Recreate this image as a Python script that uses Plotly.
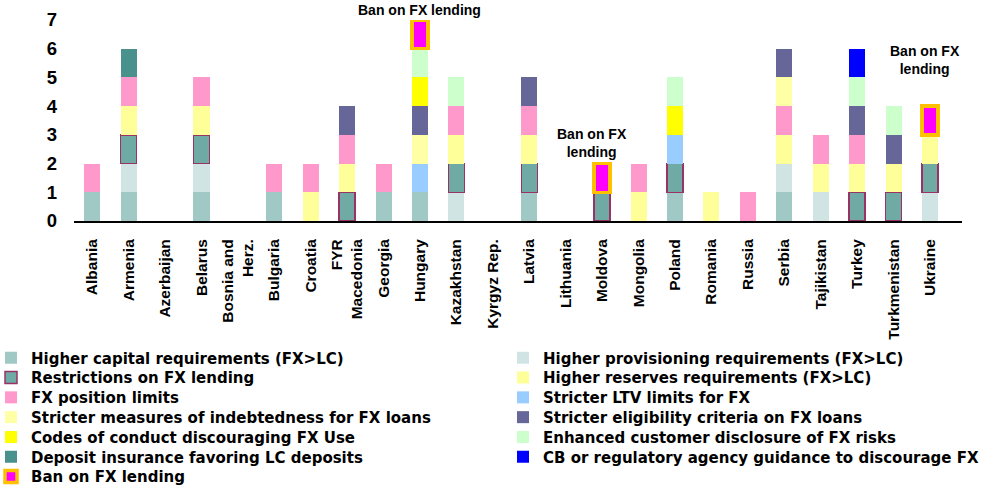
import plotly.graph_objects as go

# Countries on the category axis
countries = [
    "Albania", "Armenia", "Azerbaijan", "Belarus", "Bosnia and<br>Herz.",
    "Bulgaria", "Croatia", "FYR<br>Macedonia", "Georgia", "Hungary",
    "Kazakhstan", "Kyrgyz Rep.", "Latvia", "Lithuania", "Moldova",
    "Mongolia", "Poland", "Romania", "Russia", "Serbia", "Tajikistan",
    "Turkey", "Turkmenistan", "Ukraine",
]

# Number of measures of each type per country (stacked bottom to top)
higher_capital   = [1, 1, 0, 1, 0, 1, 0, 0, 1, 1, 0, 0, 1, 0, 0, 0, 1, 0, 0, 1, 0, 0, 0, 0]
higher_provision = [0, 1, 0, 1, 0, 0, 0, 0, 0, 0, 1, 0, 0, 0, 0, 0, 0, 0, 0, 1, 1, 0, 0, 1]
fx_restrictions  = [0, 1, 0, 1, 0, 0, 0, 1, 0, 0, 1, 0, 1, 0, 1, 0, 1, 0, 0, 0, 0, 1, 1, 1]
higher_reserves  = [0, 1, 0, 1, 0, 0, 1, 1, 0, 0, 1, 0, 1, 0, 0, 1, 0, 1, 0, 1, 1, 1, 1, 1]
fx_position      = [1, 1, 0, 1, 0, 1, 1, 1, 1, 0, 1, 0, 1, 0, 0, 1, 0, 0, 1, 1, 1, 1, 0, 0]
stricter_ltv     = [0, 0, 0, 0, 0, 0, 0, 0, 0, 1, 0, 0, 0, 0, 0, 0, 1, 0, 0, 0, 0, 0, 0, 0]
indebtedness     = [0, 0, 0, 0, 0, 0, 0, 0, 0, 1, 0, 0, 0, 0, 0, 0, 0, 0, 0, 1, 0, 0, 0, 0]
eligibility      = [0, 0, 0, 0, 0, 0, 0, 1, 0, 1, 0, 0, 1, 0, 0, 0, 0, 0, 0, 1, 0, 1, 1, 0]
codes_conduct    = [0, 0, 0, 0, 0, 0, 0, 0, 0, 1, 0, 0, 0, 0, 0, 0, 1, 0, 0, 0, 0, 0, 0, 0]
disclosure       = [0, 0, 0, 0, 0, 0, 0, 0, 0, 1, 1, 0, 0, 0, 0, 0, 1, 0, 0, 0, 0, 1, 1, 0]
deposit_ins      = [0, 1, 0, 0, 0, 0, 0, 0, 0, 0, 0, 0, 0, 0, 0, 0, 0, 0, 0, 0, 0, 0, 0, 0]
cb_guidance      = [0, 0, 0, 0, 0, 0, 0, 0, 0, 0, 0, 0, 0, 0, 0, 0, 0, 0, 0, 0, 0, 1, 0, 0]
fx_ban           = [0, 0, 0, 0, 0, 0, 0, 0, 0, 1, 0, 0, 0, 0, 1, 0, 0, 0, 0, 0, 0, 0, 0, 1]

series_names = [
    "Higher capital requirements (FX>LC)",
    "Higher provisioning requirements (FX>LC)",
    "Restrictions on FX lending",
    "Higher reserves requirements (FX>LC)",
    "FX position limits",
    "Stricter LTV limits for FX",
    "Stricter measures of indebtedness for FX loans",
    "Stricter eligibility criteria on FX loans",
    "Codes of conduct discouraging FX Use",
    "Enhanced customer disclosure of FX risks",
    "Deposit insurance favoring LC deposits",
    "CB or regulatory agency guidance to discourage FX",
    "Ban on FX lending",
]
series_values = [
    higher_capital, higher_provision, fx_restrictions, higher_reserves,
    fx_position, stricter_ltv, indebtedness, eligibility, codes_conduct,
    disclosure, deposit_ins, cb_guidance, fx_ban,
]
fill_colors = [
    "#A0C8C4", "#D0E4E4", "#6FAAA5", "#FFFF99", "#FF99CC", "#99CCFF",
    "#FFFFA6", "#666699", "#FFFF00", "#CCFFCC", "#48918C", "#0000FF",
    "#FF00FF",
]
edge_colors = {2: ("#993366", 1.5), 12: ("#FFC000", 3.5)}

LEGEND_FONT = "DejaVu Sans"
AXIS_FONT = "Liberation Sans"
W, H = 989, 486
L, R, T, B = 74, 27, 20, 265
PW, PH = W - L - R, H - T - B


def px_to_paper_x(px):
    return (px - L) / PW


def px_to_paper_y(py):
    return (H - B - py) / PH


fig = go.Figure()
legend_layouts = {}
for k, (name, vals, color) in enumerate(zip(series_names, series_values, fill_colors)):
    line_color, line_width = edge_colors.get(k, ("rgba(0,0,0,0)", 0))
    legend_id = "legend" if k == 0 else f"legend{k + 1}"
    fig.add_trace(go.Bar(
        x=countries,
        y=[v if v else None for v in vals],
        name=name,
        marker=dict(color=color, line=dict(color=line_color, width=line_width)),
        legend=legend_id,
    ))
    # two legend columns, one entry per row pair
    row, col = divmod(k, 2)
    legend_layouts[legend_id] = dict(
        x=px_to_paper_x(-9 if col == 0 else 503),
        y=px_to_paper_y(358 + 19.8 * row),
        xanchor="left", yanchor="middle",
        bgcolor="rgba(0,0,0,0)",
        font=dict(family=LEGEND_FONT, size=15, color="#000000", weight="bold"),
    )

ann_font = dict(family=AXIS_FONT, size=14, color="#000000", weight="bold")
annotations = [
    dict(x="Hungary", y=px_to_paper_y(10), yref="paper",
         text="Ban on FX lending", xshift=-1),
    dict(x="Moldova", y=2.73, yref="y", text="Ban on FX<br>lending", xshift=-10),
    dict(x="Ukraine", y=5.62, yref="y", text="Ban on FX<br>lending", xshift=-5),
]
for a in annotations:
    a.update(xref="x", showarrow=False, yanchor="middle",
             xanchor="center", font=ann_font)

fig.update_layout(
    width=W, height=H,
    margin=dict(l=L, r=R, t=T, b=B, pad=0, autoexpand=False),
    paper_bgcolor="white", plot_bgcolor="white",
    barmode="stack", bargap=0.56,
    font=dict(family=AXIS_FONT, color="#000000", weight="bold"),
    showlegend=True,
    annotations=annotations,
    **legend_layouts,
)
fig.update_xaxes(
    type="category", tickangle=-90,
    tickfont=dict(family=AXIS_FONT, size=15.5, color="#000000", weight="bold"),
    showline=True, linecolor="#000000", linewidth=2,
    showgrid=False, ticks="", ticklabelstandoff=10,
)
fig.update_yaxes(
    range=[0, 7], tickvals=list(range(8)),
    tickfont=dict(family=AXIS_FONT, size=18.5, color="#000000", weight="bold"),
    showgrid=False, zeroline=False, showline=False, ticks="",
    ticklabelstandoff=16,
)

fig.write_html("out.html")
